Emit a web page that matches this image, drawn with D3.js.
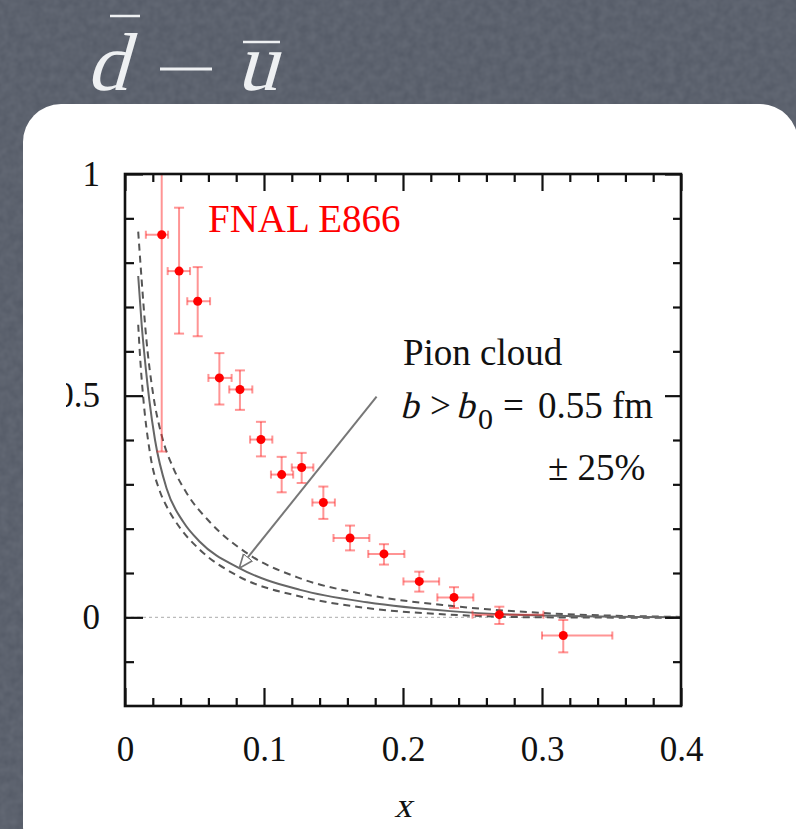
<!DOCTYPE html>
<html>
<head>
<meta charset="utf-8">
<script src="https://cdn.jsdelivr.net/npm/d3@7"></script>
<style>
  html, body { margin: 0; padding: 0; background: #555b67; }
  svg { display: block; }
  text { font-family: "Liberation Serif", serif; }
</style>
</head>
<body>
<svg id="chart" width="796" height="829"></svg>
<script>
// E866 data points
var ptX   = [0.0264, 0.0389, 0.0523, 0.0679, 0.0827, 0.0978, 0.1127, 0.1271, 0.1427, 0.1619, 0.1863, 0.2117, 0.2367, 0.2693, 0.3153];
var ptY   = [0.863, 0.781, 0.713, 0.540, 0.514, 0.401, 0.322, 0.338, 0.259, 0.179, 0.143, 0.081, 0.045, 0.006, -0.041];
var ptYlo = [0.374, 0.640, 0.634, 0.480, 0.468, 0.363, 0.282, 0.303, 0.222, 0.151, 0.119, 0.058, 0.021, -0.015, -0.079];
var ptYhi = [1.35, 0.924, 0.790, 0.596, 0.557, 0.441, 0.362, 0.371, 0.295, 0.207, 0.165, 0.103, 0.068, 0.024, -0.006];
var ptXlo = [0.015, 0.0307, 0.0448, 0.060, 0.075, 0.090, 0.105, 0.120, 0.1348, 0.150, 0.175, 0.2003, 0.2247, 0.250, 0.300];
var ptXhi = [0.031, 0.0468, 0.0612, 0.0767, 0.0916, 0.106, 0.121, 0.1355, 0.151, 0.1758, 0.201, 0.226, 0.2506, 0.301, 0.3506];

// pion cloud curves
var cloudX   = [0.0095, 0.012, 0.015, 0.0175, 0.0216, 0.030, 0.042, 0.054, 0.0822, 0.126, 0.174, 0.234, 0.30, 0.40];
var cloudMid = [0.77, 0.66, 0.56, 0.49, 0.40, 0.29, 0.215, 0.17, 0.111, 0.062, 0.034, 0.014, 0.004, 0.0];
var upperX   = [0.0095, 0.012, 0.015, 0.0204, 0.0264, 0.035, 0.0444, 0.061, 0.090, 0.126, 0.174, 0.234, 0.30, 0.40];
var upperY   = [0.87, 0.76, 0.64, 0.50, 0.41, 0.335, 0.28, 0.215, 0.14, 0.088, 0.051, 0.026, 0.010, 0.001];
var lowerX   = [0.0095, 0.011, 0.013, 0.018, 0.025, 0.030, 0.040, 0.054, 0.082, 0.126, 0.174, 0.234, 0.30, 0.40];
var lowerY   = [0.66, 0.58, 0.50, 0.37, 0.285, 0.25, 0.20, 0.152, 0.092, 0.047, 0.021, 0.006, 0.0, -0.001];

var xMajor = [0, 0.1, 0.2, 0.3, 0.4];
var yMajor = [0, 0.5, 1];
var yLabels = ["0", "0.5", "1"];

var svg = d3.select("#chart");

// slate background with a fine grain
var defs = svg.append("defs");
var f = defs.append("filter").attr("id", "grain").attr("x", 0).attr("y", 0).attr("width", "100%").attr("height", "100%");
f.append("feTurbulence").attr("type", "fractalNoise").attr("baseFrequency", 0.12).attr("numOctaves", 2).attr("seed", 7);
f.append("feColorMatrix").attr("type", "matrix")
    .attr("values", "0 0 0 0 0.85  0 0 0 0 0.88  0 0 0 0 0.93  0 0 0 0.12 -0.02");
svg.append("rect").attr("width", 796).attr("height", 829).attr("fill", "#565c68");
svg.append("rect").attr("width", 796).attr("height", 829).attr("filter", "url(#grain)");

// title  d-bar minus u-bar (italic faked with a skew)
var tg = svg.append("g").attr("fill", "#eef0f2").attr("font-family", "Liberation Serif, serif");
tg.append("text").attr("transform", "translate(86,90) skewX(-16)").attr("font-size", 82).text("d");
tg.append("line").attr("x1", 160).attr("x2", 212).attr("y1", 69).attr("y2", 69).attr("stroke", "#eef0f2").attr("stroke-width", 3);
tg.append("text").attr("transform", "translate(236,90) skewX(-16)").attr("font-size", 82).text("u");
tg.append("line").attr("x1", 110).attr("x2", 140).attr("y1", 16).attr("y2", 16).attr("stroke", "#eef0f2").attr("stroke-width", 2.5);
tg.append("line").attr("x1", 243).attr("x2", 280).attr("y1", 42).attr("y2", 42).attr("stroke", "#eef0f2").attr("stroke-width", 2.5);

// white card
svg.append("rect").attr("x", 23).attr("y", 104).attr("width", 775).attr("height", 760).attr("rx", 38).attr("fill", "#fff");

var x = d3.scaleLinear().domain([0, 0.4]).range([125, 681]);
var y = d3.scaleLinear().domain([-0.2, 1]).range([706, 174]);

defs.append("clipPath").attr("id", "plot").append("rect")
    .attr("x", 125).attr("y", 174).attr("width", 556).attr("height", 532);
// label clip, in the left axis' own coordinates (group sits at x=125)
defs.append("clipPath").attr("id", "ylab").append("rect")
    .attr("x", -59).attr("y", 150).attr("width", 86).attr("height", 600);

var xMinor = d3.range(0, 0.401, 0.02).filter(function(v) { return Math.abs(v * 10 - Math.round(v * 10)) > 1e-6; });
var yMinor = d3.range(-0.1, 1.0, 0.1).filter(function(v) { return Math.abs(v * 2 - Math.round(v * 2)) > 1e-6; });

function styleAxis(g) {
  g.select(".domain").remove();
  g.selectAll(".tick line").attr("stroke", "#111").attr("stroke-width", 2.2);
  g.selectAll(".tick text").attr("fill", "#111").attr("font-size", 35)
      .attr("font-family", "Liberation Serif, serif");
}

var plot = svg.append("g").attr("clip-path", "url(#plot)");

// zero reference
plot.append("line").attr("x1", x(0)).attr("x2", x(0.4)).attr("y1", y(0)).attr("y2", y(0))
    .attr("stroke", "#bbb").attr("stroke-width", 1.3).attr("stroke-dasharray", "3,3");

// pion cloud curves
var line = d3.line().curve(d3.curveMonotoneX);
function pairs(xs, ys) { return xs.map(function(v, i) { return [x(v), y(ys[i])]; }); }
plot.append("path").attr("d", line(pairs(upperX, upperY)))
    .attr("fill", "none").attr("stroke", "#555").attr("stroke-width", 2).attr("stroke-dasharray", "7,5");
plot.append("path").attr("d", line(pairs(lowerX, lowerY)))
    .attr("fill", "none").attr("stroke", "#555").attr("stroke-width", 2).attr("stroke-dasharray", "7,5");
plot.append("path").attr("d", line(pairs(cloudX, cloudMid)))
    .attr("fill", "none").attr("stroke", "#666").attr("stroke-width", 2);

// E866 points
var pts = ptX.map(function(v, i) {
  return {x: v, y: ptY[i], ylo: ptYlo[i], yhi: ptYhi[i], xlo: ptXlo[i], xhi: ptXhi[i]};
});
var eb = plot.append("g").attr("stroke", "#ff2a2a").attr("stroke-opacity", 0.5).attr("stroke-width", 2);
var p = eb.selectAll("g").data(pts).join("g");
p.append("line").attr("x1", function(d) { return x(d.x); }).attr("x2", function(d) { return x(d.x); })
    .attr("y1", function(d) { return y(d.ylo); }).attr("y2", function(d) { return y(d.yhi); });
p.append("line").attr("x1", function(d) { return x(d.xlo); }).attr("x2", function(d) { return x(d.xhi); })
    .attr("y1", function(d) { return y(d.y); }).attr("y2", function(d) { return y(d.y); });
["ylo", "yhi"].forEach(function(k) {
  p.append("line").attr("x1", function(d) { return x(d.x) - 5; }).attr("x2", function(d) { return x(d.x) + 5; })
      .attr("y1", function(d) { return y(d[k]); }).attr("y2", function(d) { return y(d[k]); });
});
["xlo", "xhi"].forEach(function(k) {
  p.append("line").attr("x1", function(d) { return x(d[k]); }).attr("x2", function(d) { return x(d[k]); })
      .attr("y1", function(d) { return y(d.y) - 4; }).attr("y2", function(d) { return y(d.y) + 4; });
});
plot.append("g").selectAll("circle").data(pts).join("circle")
    .attr("cx", function(d) { return x(d.x); }).attr("cy", function(d) { return y(d.y); })
    .attr("r", 4.5).attr("fill", "#f00");

// axes: inward ticks on all four sides
svg.append("g").attr("transform", "translate(0,706)")
    .call(d3.axisBottom(x).tickValues(xMinor).tickSize(-8).tickFormat("")).call(styleAxis);
svg.append("g").attr("transform", "translate(0,706)")
    .call(d3.axisBottom(x).tickValues(xMajor).tickSize(-18).tickPadding(30).tickFormat(d3.format("~g"))).call(styleAxis);
svg.append("g").attr("transform", "translate(0,174)")
    .call(d3.axisTop(x).tickValues(xMinor).tickSize(-8).tickFormat("")).call(styleAxis);
svg.append("g").attr("transform", "translate(0,174)")
    .call(d3.axisTop(x).tickValues(xMajor).tickSize(-17).tickFormat("")).call(styleAxis);
svg.append("g").attr("transform", "translate(125,0)")
    .call(d3.axisLeft(y).tickValues(yMinor).tickSize(-9).tickFormat("")).call(styleAxis);
svg.append("g").attr("transform", "translate(125,0)").attr("clip-path", "url(#ylab)")
    .call(d3.axisLeft(y).tickValues(yMajor).tickSize(-18).tickPadding(25)
      .tickFormat(function(d, i) { return yLabels[i]; })).call(styleAxis);
svg.append("g").attr("transform", "translate(681,0)")
    .call(d3.axisRight(y).tickValues(yMinor).tickSize(-8).tickFormat("")).call(styleAxis);
svg.append("g").attr("transform", "translate(681,0)")
    .call(d3.axisRight(y).tickValues(yMajor).tickSize(-16).tickFormat("")).call(styleAxis);

// frame
svg.append("rect").attr("x", 125).attr("y", 174).attr("width", 556).attr("height", 532)
    .attr("fill", "none").attr("stroke", "#111").attr("stroke-width", 2.6);

// arrow
defs.append("marker").attr("id", "head").attr("viewBox", "0 0 10 10").attr("refX", 10).attr("refY", 5)
    .attr("markerWidth", 7).attr("markerHeight", 7).attr("orient", "auto")
    .append("path").attr("d", "M0,1 L10,5 L0,9 Z").attr("fill", "#fff").attr("stroke", "#777").attr("stroke-width", 1.2);
svg.append("line").attr("x1", x(0.181)).attr("y1", y(0.498)).attr("x2", x(0.0822)).attr("y2", y(0.111))
    .attr("stroke", "#777").attr("stroke-width", 2).attr("marker-end", "url(#head)");

// annotations
svg.append("text").attr("x", 208).attr("y", 232).attr("font-size", 39).attr("fill", "#f00").text("FNAL E866");
svg.append("text").attr("x", 403).attr("y", 365).attr("font-size", 37).attr("fill", "#111").text("Pion cloud");
var ann = svg.append("g").attr("fill", "#111").attr("font-size", 37);
ann.append("text").attr("transform", "translate(400,418) skewX(-14)").text("b");
ann.append("text").attr("x", 430).attr("y", 418).text(">");
ann.append("text").attr("transform", "translate(456,418) skewX(-14)").text("b");
ann.append("text").attr("x", 478).attr("y", 429).attr("font-size", 30).text("0");
ann.append("text").attr("x", 503).attr("y", 418).text("=");
ann.append("text").attr("x", 538).attr("y", 418).text("0.55 fm");
svg.append("text").attr("x", 548).attr("y", 480).attr("font-size", 37).attr("fill", "#111").text("± 25%");

// axis title
svg.append("text").attr("transform", "translate(403,817) skewX(-14)").attr("font-size", 35)
    .attr("text-anchor", "middle").attr("fill", "#111").text("x");
</script>
</body>
</html>
